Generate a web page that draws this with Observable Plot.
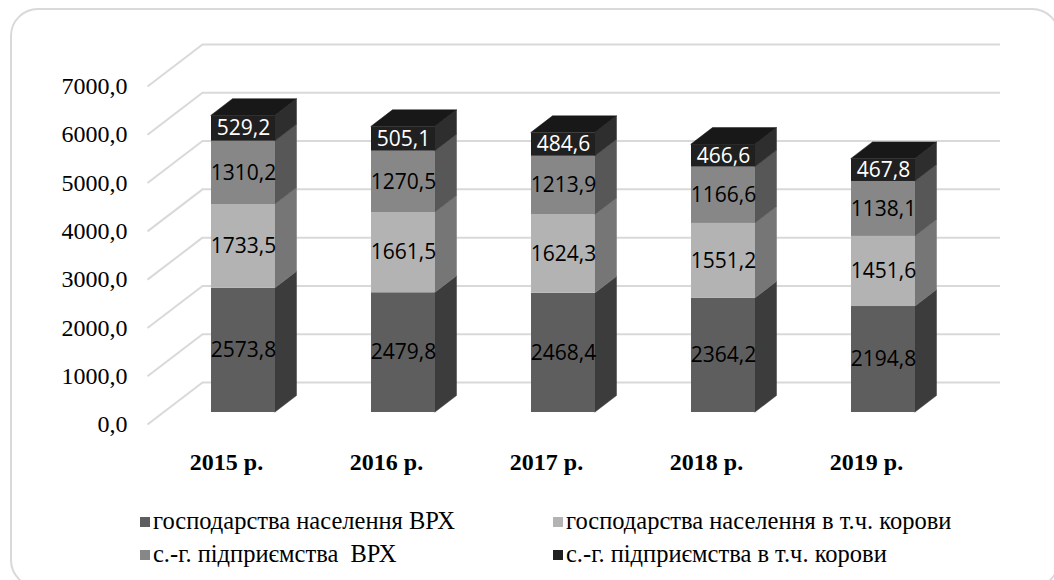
<!DOCTYPE html>
<html>
<head>
<meta charset="utf-8">
<script src="https://cdn.jsdelivr.net/npm/d3@7"></script>
<script src="https://cdn.jsdelivr.net/npm/@observablehq/plot@0.6"></script>
<style>
  html, body { margin: 0; padding: 0; background: #fff; }
  #wrap { position: relative; width: 1054px; height: 580px; overflow: hidden; }
  #frame { position: absolute; left: 10px; top: 8px; width: 1050px; height: 580px;
           border: 2px solid #d9d9d9; border-radius: 28px; box-sizing: border-box; }
  #chart { position: absolute; left: 0; top: 0; }
  .legend { position: absolute; font-family: "Liberation Serif", "Times New Roman", serif;
            font-size: 24.5px; color: #000; white-space: pre; line-height: 1; }
  .legend .sw { display: inline-block; width: 10px; height: 10px; margin-right: 3px; vertical-align: 2px; }
</style>
</head>
<body>
<div id="wrap">
  <div id="frame"></div>
  <div id="chart"></div>
  <div id="legend"></div>
</div>
<script>
// ---- data ----
const years = ["2015 р.", "2016 р.", "2017 р.", "2018 р.", "2019 р."];
const seriesNames = [
  "господарства населення ВРХ",
  "господарства населення в т.ч. корови",
  "с.-г. підприємства  ВРХ",
  "с.-г. підприємства в т.ч. корови"
];
const householdsCattle = [2573.8, 2479.8, 2468.4, 2364.2, 2194.8];
const householdsCows   = [1733.5, 1661.5, 1624.3, 1551.2, 1451.6];
const enterprisesCattle = [1310.2, 1270.5, 1213.9, 1166.6, 1138.1];
const enterprisesCows   = [529.2, 505.1, 484.6, 466.6, 467.8];
const yTicks = [0, 1000, 2000, 3000, 4000, 5000, 6000, 7000];

// ---- styles ----
const frontColors = ["#5e5e5e", "#b3b3b3", "#878787", "#202020"];
const sideColors  = ["#3c3c3c", "#767676", "#575757", "#2e2e2e"];
const topColor = "#181818";

const series = [householdsCattle, householdsCows, enterprisesCattle, enterprisesCows];
const fmt = v => v.toFixed(1).replace(".", ",");

// pixel geometry -> data units
const X0 = 243, XSTEP = 160;        // x range
const Y0 = 412, Y7 = 74;            // y range
const PY = (Y0 - Y7) / 7000;        // px per unit
const px2x = p => p / XSTEP;
const px2y = p => p / PY;
const hw = px2x(32);
const ddx = px2x(21.5), ddy = px2y(16.5);
const gridFrontX = px2x(147 - X0), gridBackX = px2x(202 - X0), gridRightX = px2x(1000 - X0);
const gridFrontDy = px2y(12), gridBackDy = px2y(30);

// ---- derived tables ----
const segs = [];
years.forEach((yr, i) => {
  let acc = 0;
  series.forEach((arr, s) => {
    const v = arr[i];
    segs.push({i, s, value: v, y1: acc, y2: acc + v, key: i + "-" + s});
    acc += v;
  });
});
const sidePts = segs.flatMap(d => [
  {key: d.key, x: d.i + hw, y1: d.y1, y2: d.y2, fill: sideColors[d.s]},
  {key: d.key, x: d.i + hw + ddx, y1: d.y1 + ddy, y2: d.y2 + ddy, fill: sideColors[d.s]}
]);
const tops = segs.filter(d => d.s === series.length - 1);
const topPts = tops.flatMap(d => [
  {key: d.key, y: d.y2, x1: d.i - hw, x2: d.i + hw},
  {key: d.key, y: d.y2 + ddy, x1: d.i - hw + ddx, x2: d.i + hw + ddx}
]);

const chart = Plot.plot({
  width: 1054,
  height: 490,
  x: {type: "linear", domain: [0, 4], range: [X0, X0 + 4 * XSTEP], axis: null},
  y: {type: "linear", domain: [0, 7000], range: [Y0, Y7], axis: null},
  color: {type: "identity"},
  style: {background: "transparent", overflow: "visible"},
  marks: [
    Plot.ruleY(yTicks, {y: d => d + gridBackDy, x1: () => gridBackX, x2: () => gridRightX,
      stroke: "#d9d9d9", strokeWidth: 2}),
    Plot.link(yTicks, {x1: () => gridFrontX, y1: d => d - gridFrontDy,
      x2: () => gridBackX, y2: d => d + gridBackDy, stroke: "#d9d9d9", strokeWidth: 2}),
    Plot.text(yTicks, {x: () => px2x(127 - X0), y: d => d - gridFrontDy, text: d => fmt(d),
      textAnchor: "end", fontSize: 24, fontFamily: "Liberation Serif", fill: "#000"}),
    Plot.areaY(sidePts, {x: "x", y1: "y1", y2: "y2", z: "key", fill: "fill",
      stroke: "fill", strokeWidth: 0.5}),
    Plot.areaX(topPts, {y: "y", x1: "x1", x2: "x2", z: "key", fill: topColor,
      stroke: topColor, strokeWidth: 0.5}),
    Plot.rect(segs, {x1: d => d.i - hw, x2: d => d.i + hw, y1: "y1", y2: "y2",
      fill: d => frontColors[d.s]}),
    Plot.text(segs, {x: "i", y: d => (d.y1 + d.y2) / 2, text: d => fmt(d.value),
      fill: d => d.s === series.length - 1 ? "#ffffff" : "#000000",
      fontSize: 21, fontFamily: "Open Sans"}),
    Plot.text(years, {x: (d, i) => i + px2x(-17), y: () => px2y(Y0 - 462), text: d => d,
      fontSize: 24, fontWeight: "bold", fontFamily: "Liberation Serif", fill: "#000"})
  ]
});
document.getElementById("chart").appendChild(chart);

// ---- legend ----
const legendColors = frontColors;
const legendPos = [[140, 521], [553, 521], [140, 554], [553, 554]];
const leg = document.getElementById("legend");
seriesNames.forEach((name, k) => {
  const el = document.createElement("div");
  el.className = "legend";
  el.style.left = legendPos[k][0] + "px";
  el.style.top = (legendPos[k][1] - 12) + "px";
  const sw = document.createElement("span");
  sw.className = "sw";
  sw.style.background = legendColors[k];
  el.appendChild(sw);
  el.appendChild(document.createTextNode(name));
  leg.appendChild(el);
});
</script>
</body>
</html>
